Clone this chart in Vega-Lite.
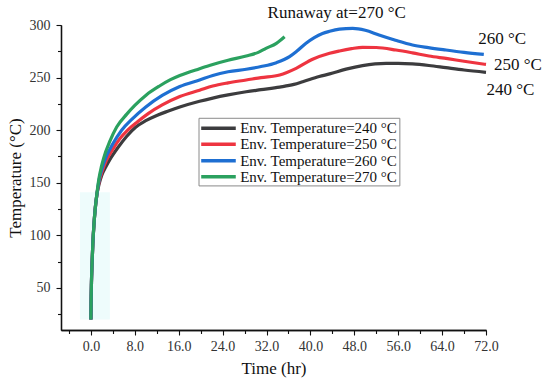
{
  "$schema": "https://vega.github.io/schema/vega-lite/v6.json",
  "width": 425,
  "height": 305,
  "autosize": {"type": "none"},
  "padding": {"left": 61, "top": 25, "right": 64, "bottom": 54},
  "background": "white",
  "config": {
    "view": {"stroke": null},
    "font": "Liberation Serif",
    "axis": {
      "grid": false,
      "domainColor": "#111",
      "domainWidth": 1.3,
      "tickColor": "#111",
      "tickWidth": 1.1,
      "labelFont": "Liberation Serif",
      "labelFontSize": 14,
      "labelColor": "#333",
      "titleFont": "Liberation Serif",
      "titleFontSize": 17,
      "titleFontWeight": "normal",
      "titleColor": "#111"
    }
  },
  "resolve": {"axis": {"x": "independent", "y": "independent"}},
  "datasets": {
    "curves": [
      {"series": "Env. Temperature=240 °C", "t": 0, "T": 20},
      {"series": "Env. Temperature=240 °C", "t": 0.03, "T": 35},
      {"series": "Env. Temperature=240 °C", "t": 0.1, "T": 55},
      {"series": "Env. Temperature=240 °C", "t": 0.2, "T": 72},
      {"series": "Env. Temperature=240 °C", "t": 0.35, "T": 92},
      {"series": "Env. Temperature=240 °C", "t": 0.55, "T": 110},
      {"series": "Env. Temperature=240 °C", "t": 0.8, "T": 126},
      {"series": "Env. Temperature=240 °C", "t": 1.1, "T": 139},
      {"series": "Env. Temperature=240 °C", "t": 1.5, "T": 149},
      {"series": "Env. Temperature=240 °C", "t": 2, "T": 157.5},
      {"series": "Env. Temperature=240 °C", "t": 2.7, "T": 165},
      {"series": "Env. Temperature=240 °C", "t": 3.5, "T": 172.5},
      {"series": "Env. Temperature=240 °C", "t": 5, "T": 184},
      {"series": "Env. Temperature=240 °C", "t": 6.5, "T": 194},
      {"series": "Env. Temperature=240 °C", "t": 8.2, "T": 203},
      {"series": "Env. Temperature=240 °C", "t": 10, "T": 209},
      {"series": "Env. Temperature=240 °C", "t": 12, "T": 214},
      {"series": "Env. Temperature=240 °C", "t": 14, "T": 218},
      {"series": "Env. Temperature=240 °C", "t": 16.2, "T": 222},
      {"series": "Env. Temperature=240 °C", "t": 19.8, "T": 227.5},
      {"series": "Env. Temperature=240 °C", "t": 22.2, "T": 230.5},
      {"series": "Env. Temperature=240 °C", "t": 25, "T": 233.5},
      {"series": "Env. Temperature=240 °C", "t": 28.3, "T": 236.5},
      {"series": "Env. Temperature=240 °C", "t": 31, "T": 238.5},
      {"series": "Env. Temperature=240 °C", "t": 34.4, "T": 241},
      {"series": "Env. Temperature=240 °C", "t": 37, "T": 243.5},
      {"series": "Env. Temperature=240 °C", "t": 38.6, "T": 246},
      {"series": "Env. Temperature=240 °C", "t": 41.6, "T": 251},
      {"series": "Env. Temperature=240 °C", "t": 43.5, "T": 253.5},
      {"series": "Env. Temperature=240 °C", "t": 46.5, "T": 258},
      {"series": "Env. Temperature=240 °C", "t": 49.5, "T": 261.4},
      {"series": "Env. Temperature=240 °C", "t": 53.8, "T": 263.5},
      {"series": "Env. Temperature=240 °C", "t": 56, "T": 263.5},
      {"series": "Env. Temperature=240 °C", "t": 58.6, "T": 263},
      {"series": "Env. Temperature=240 °C", "t": 61.6, "T": 261.5},
      {"series": "Env. Temperature=240 °C", "t": 64.7, "T": 259.4},
      {"series": "Env. Temperature=240 °C", "t": 68, "T": 257.2},
      {"series": "Env. Temperature=240 °C", "t": 72, "T": 255},

      {"series": "Env. Temperature=250 °C", "t": 0, "T": 20},
      {"series": "Env. Temperature=250 °C", "t": 0.03, "T": 35},
      {"series": "Env. Temperature=250 °C", "t": 0.1, "T": 55},
      {"series": "Env. Temperature=250 °C", "t": 0.2, "T": 72},
      {"series": "Env. Temperature=250 °C", "t": 0.35, "T": 92},
      {"series": "Env. Temperature=250 °C", "t": 0.55, "T": 110},
      {"series": "Env. Temperature=250 °C", "t": 0.8, "T": 126},
      {"series": "Env. Temperature=250 °C", "t": 1.1, "T": 139},
      {"series": "Env. Temperature=250 °C", "t": 1.5, "T": 151},
      {"series": "Env. Temperature=250 °C", "t": 2, "T": 160},
      {"series": "Env. Temperature=250 °C", "t": 2.8, "T": 171},
      {"series": "Env. Temperature=250 °C", "t": 4, "T": 182},
      {"series": "Env. Temperature=250 °C", "t": 5.3, "T": 192},
      {"series": "Env. Temperature=250 °C", "t": 6.7, "T": 200},
      {"series": "Env. Temperature=250 °C", "t": 8.5, "T": 208},
      {"series": "Env. Temperature=250 °C", "t": 10.5, "T": 216},
      {"series": "Env. Temperature=250 °C", "t": 13, "T": 224},
      {"series": "Env. Temperature=250 °C", "t": 16.2, "T": 232},
      {"series": "Env. Temperature=250 °C", "t": 19.8, "T": 238},
      {"series": "Env. Temperature=250 °C", "t": 22.2, "T": 242},
      {"series": "Env. Temperature=250 °C", "t": 25, "T": 245},
      {"series": "Env. Temperature=250 °C", "t": 28.3, "T": 247.7},
      {"series": "Env. Temperature=250 °C", "t": 31, "T": 250},
      {"series": "Env. Temperature=250 °C", "t": 34.4, "T": 252.5},
      {"series": "Env. Temperature=250 °C", "t": 37.4, "T": 258.8},
      {"series": "Env. Temperature=250 °C", "t": 40.4, "T": 267.4},
      {"series": "Env. Temperature=250 °C", "t": 43.5, "T": 273.1},
      {"series": "Env. Temperature=250 °C", "t": 45.3, "T": 275.3},
      {"series": "Env. Temperature=250 °C", "t": 47.5, "T": 277.5},
      {"series": "Env. Temperature=250 °C", "t": 49.5, "T": 278.8},
      {"series": "Env. Temperature=250 °C", "t": 52, "T": 278.6},
      {"series": "Env. Temperature=250 °C", "t": 55.6, "T": 276.2},
      {"series": "Env. Temperature=250 °C", "t": 58.6, "T": 273.5},
      {"series": "Env. Temperature=250 °C", "t": 61.6, "T": 270.5},
      {"series": "Env. Temperature=250 °C", "t": 65, "T": 268},
      {"series": "Env. Temperature=250 °C", "t": 68, "T": 265.5},
      {"series": "Env. Temperature=250 °C", "t": 72, "T": 262.5},

      {"series": "Env. Temperature=260 °C", "t": 0, "T": 20},
      {"series": "Env. Temperature=260 °C", "t": 0.03, "T": 35},
      {"series": "Env. Temperature=260 °C", "t": 0.1, "T": 55},
      {"series": "Env. Temperature=260 °C", "t": 0.2, "T": 72},
      {"series": "Env. Temperature=260 °C", "t": 0.35, "T": 92},
      {"series": "Env. Temperature=260 °C", "t": 0.55, "T": 110},
      {"series": "Env. Temperature=260 °C", "t": 0.8, "T": 126},
      {"series": "Env. Temperature=260 °C", "t": 1.1, "T": 139},
      {"series": "Env. Temperature=260 °C", "t": 1.5, "T": 153},
      {"series": "Env. Temperature=260 °C", "t": 2, "T": 163},
      {"series": "Env. Temperature=260 °C", "t": 2.5, "T": 171},
      {"series": "Env. Temperature=260 °C", "t": 4, "T": 187},
      {"series": "Env. Temperature=260 °C", "t": 5.6, "T": 200},
      {"series": "Env. Temperature=260 °C", "t": 7.5, "T": 210.5},
      {"series": "Env. Temperature=260 °C", "t": 10, "T": 222},
      {"series": "Env. Temperature=260 °C", "t": 13, "T": 233},
      {"series": "Env. Temperature=260 °C", "t": 16.2, "T": 241.5},
      {"series": "Env. Temperature=260 °C", "t": 19.8, "T": 247.7},
      {"series": "Env. Temperature=260 °C", "t": 22.2, "T": 252},
      {"series": "Env. Temperature=260 °C", "t": 25, "T": 255.5},
      {"series": "Env. Temperature=260 °C", "t": 28.3, "T": 257.9},
      {"series": "Env. Temperature=260 °C", "t": 31, "T": 260.5},
      {"series": "Env. Temperature=260 °C", "t": 33.8, "T": 264.2},
      {"series": "Env. Temperature=260 °C", "t": 36.2, "T": 269.9},
      {"series": "Env. Temperature=260 °C", "t": 37.5, "T": 275},
      {"series": "Env. Temperature=260 °C", "t": 39.2, "T": 282.6},
      {"series": "Env. Temperature=260 °C", "t": 40.7, "T": 288},
      {"series": "Env. Temperature=260 °C", "t": 42.2, "T": 292},
      {"series": "Env. Temperature=260 °C", "t": 43.5, "T": 294},
      {"series": "Env. Temperature=260 °C", "t": 45.3, "T": 296},
      {"series": "Env. Temperature=260 °C", "t": 47.7, "T": 296.8},
      {"series": "Env. Temperature=260 °C", "t": 50, "T": 295},
      {"series": "Env. Temperature=260 °C", "t": 52.5, "T": 290.5},
      {"series": "Env. Temperature=260 °C", "t": 55.5, "T": 285.5},
      {"series": "Env. Temperature=260 °C", "t": 58.6, "T": 281},
      {"series": "Env. Temperature=260 °C", "t": 61.5, "T": 278.5},
      {"series": "Env. Temperature=260 °C", "t": 64.7, "T": 276.2},
      {"series": "Env. Temperature=260 °C", "t": 68, "T": 274},
      {"series": "Env. Temperature=260 °C", "t": 71.6, "T": 272},

      {"series": "Env. Temperature=270 °C", "t": 0, "T": 20},
      {"series": "Env. Temperature=270 °C", "t": 0.03, "T": 35},
      {"series": "Env. Temperature=270 °C", "t": 0.1, "T": 55},
      {"series": "Env. Temperature=270 °C", "t": 0.2, "T": 72},
      {"series": "Env. Temperature=270 °C", "t": 0.35, "T": 92},
      {"series": "Env. Temperature=270 °C", "t": 0.55, "T": 110},
      {"series": "Env. Temperature=270 °C", "t": 0.8, "T": 126},
      {"series": "Env. Temperature=270 °C", "t": 1.1, "T": 140},
      {"series": "Env. Temperature=270 °C", "t": 1.5, "T": 155},
      {"series": "Env. Temperature=270 °C", "t": 1.9, "T": 165},
      {"series": "Env. Temperature=270 °C", "t": 2.3, "T": 173},
      {"series": "Env. Temperature=270 °C", "t": 3.5, "T": 190},
      {"series": "Env. Temperature=270 °C", "t": 4.7, "T": 203},
      {"series": "Env. Temperature=270 °C", "t": 6.5, "T": 215},
      {"series": "Env. Temperature=270 °C", "t": 8, "T": 223.5},
      {"series": "Env. Temperature=270 °C", "t": 10.1, "T": 233.5},
      {"series": "Env. Temperature=270 °C", "t": 12.5, "T": 242},
      {"series": "Env. Temperature=270 °C", "t": 14.5, "T": 248},
      {"series": "Env. Temperature=270 °C", "t": 16.2, "T": 252},
      {"series": "Env. Temperature=270 °C", "t": 19.8, "T": 258.5},
      {"series": "Env. Temperature=270 °C", "t": 22.2, "T": 262.5},
      {"series": "Env. Temperature=270 °C", "t": 25, "T": 266.5},
      {"series": "Env. Temperature=270 °C", "t": 28.3, "T": 270.5},
      {"series": "Env. Temperature=270 °C", "t": 30.5, "T": 274},
      {"series": "Env. Temperature=270 °C", "t": 31.9, "T": 277.8},
      {"series": "Env. Temperature=270 °C", "t": 33.8, "T": 282.6},
      {"series": "Env. Temperature=270 °C", "t": 35.3, "T": 288.9}
    ],
    "notes": [
      {"label": "Runaway at=270 °C", "t": 32.2, "T": 311},
      {"label": "260 °C", "t": 70.6, "T": 286.4},
      {"label": "250 °C", "t": 73.45, "T": 262},
      {"label": "240 °C", "t": 72.1, "T": 238.2}
    ],
    "patch": [
      {"t0": -2, "t1": 3.45, "T0": 20, "T1": 141}
    ],
    "legendbox": [
      {"t0": 19.7, "t1": 56.3, "T0": 147, "T1": 211.3}
    ],
    "legenditems": [
      {"series": "Env. Temperature=240 °C", "s0": 20.1, "s1": 26.4, "tx": 27.2, "T": 201.8},
      {"series": "Env. Temperature=250 °C", "s0": 20.1, "s1": 26.4, "tx": 27.2, "T": 186.6},
      {"series": "Env. Temperature=260 °C", "s0": 20.1, "s1": 26.4, "tx": 27.2, "T": 170.9},
      {"series": "Env. Temperature=270 °C", "s0": 20.1, "s1": 26.4, "tx": 27.2, "T": 155.8}
    ]
  },
  "layer": [
    {
      "data": {"name": "patch"},
      "mark": {"type": "rect", "fill": "#eefcfc"},
      "encoding": {
        "x": {
          "field": "t0", "type": "quantitative",
          "scale": {"domain": [-5.45, 72], "nice": false, "zero": false},
          "axis": {
            "orient": "bottom",
            "title": null,
            "values": [-4, 4, 12, 20, 28, 36, 44, 52, 60, 68],
            "labels": false,
            "tickSize": 3.5
          }
        },
        "x2": {"field": "t1"},
        "y": {
          "field": "T0", "type": "quantitative",
          "scale": {"domain": [10, 300], "nice": false, "zero": false},
          "axis": {
            "orient": "left",
            "title": null,
            "values": [25, 75, 125, 175, 225, 275],
            "labels": false,
            "tickSize": 3.5
          }
        },
        "y2": {"field": "T1"}
      }
    },
    {
      "data": {"name": "curves"},
      "mark": {"type": "line", "strokeWidth": 3.2, "interpolate": "monotone", "clip": false},
      "encoding": {
        "x": {
          "field": "t", "type": "quantitative",
          "axis": {
            "orient": "bottom",
            "title": "Time (hr)",
            "values": [0, 8, 16, 24, 32, 40, 48, 56, 64, 72],
            "format": ".1f",
            "tickSize": 5,
            "labelPadding": 4,
            "titlePadding": 7,
            "labelFlush": false,
            "labelOverlap": false
          }
        },
        "y": {
          "field": "T", "type": "quantitative",
          "axis": {
            "orient": "left",
            "title": "Temperature (°C)",
            "values": [50, 100, 150, 200, 250, 300],
            "format": "d",
            "tickSize": 5,
            "labelPadding": 6,
            "titlePadding": 5,
            "labelFlush": false,
            "labelOverlap": false
          }
        },
        "color": {
          "field": "series", "type": "nominal",
          "scale": {
            "domain": ["Env. Temperature=240 °C", "Env. Temperature=250 °C", "Env. Temperature=260 °C", "Env. Temperature=270 °C"],
            "range": ["#3c3c3e", "#ee3440", "#1e6fd2", "#2ba15f"]
          },
          "legend": null
        }
      }
    },
    {
      "data": {"name": "legendbox"},
      "mark": {"type": "rect", "fill": "white", "stroke": "#8a8a8a", "strokeWidth": 1},
      "encoding": {
        "x": {"field": "t0", "type": "quantitative", "axis": null},
        "x2": {"field": "t1"},
        "y": {"field": "T0", "type": "quantitative", "axis": null},
        "y2": {"field": "T1"}
      }
    },
    {
      "data": {"name": "legenditems"},
      "mark": {"type": "rule", "strokeWidth": 3.5},
      "encoding": {
        "x": {"field": "s0", "type": "quantitative", "axis": null},
        "x2": {"field": "s1"},
        "y": {"field": "T", "type": "quantitative", "axis": null},
        "color": {"field": "series", "type": "nominal", "legend": null}
      }
    },
    {
      "data": {"name": "legenditems"},
      "mark": {"type": "text", "font": "Liberation Serif", "fontSize": 15, "color": "#111", "align": "left", "baseline": "middle"},
      "encoding": {
        "x": {"field": "tx", "type": "quantitative", "axis": null},
        "y": {"field": "T", "type": "quantitative", "axis": null},
        "text": {"field": "series"}
      }
    },
    {
      "data": {"name": "notes"},
      "mark": {"type": "text", "font": "Liberation Serif", "fontSize": 17, "color": "#111", "align": "left", "baseline": "middle", "clip": false},
      "encoding": {
        "x": {"field": "t", "type": "quantitative", "axis": null},
        "y": {"field": "T", "type": "quantitative", "axis": null},
        "text": {"field": "label"}
      }
    }
  ]
}
